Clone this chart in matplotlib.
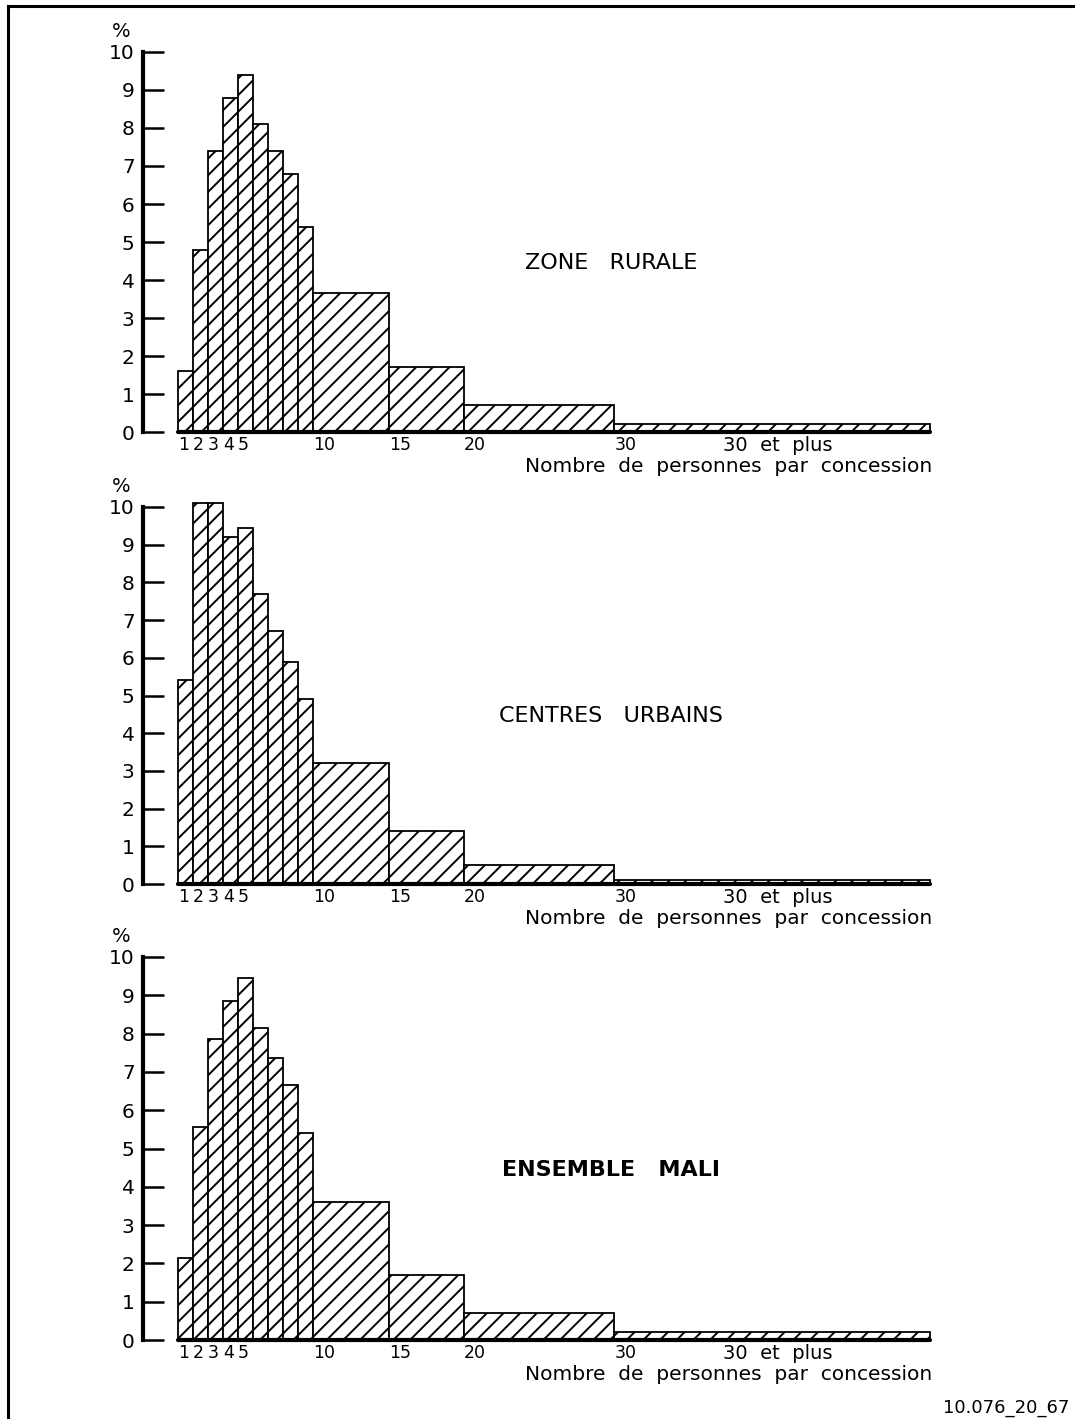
import matplotlib.pyplot as plt
from matplotlib.lines import Line2D

# Classes de taille (bornes des intervalles)
bornes_gauche = [1, 2, 3, 4, 5, 6, 7, 8, 9, 10, 15, 20, 30]
bornes_droite = [2, 3, 4, 5, 6, 7, 8, 9, 10, 15, 20, 30, 51]

# Pourcentages
zone_rurale = [1.6, 4.8, 7.4, 8.8, 9.4, 8.1, 7.4, 6.8, 5.4, 3.65, 1.7, 0.72, 0.2]
centres_urbains = [5.4, 10.1, 10.1, 9.2, 9.45, 7.7, 6.7, 5.9, 4.9, 3.2, 1.4, 0.5, 0.1]
ensemble_mali = [2.15, 5.55, 7.85, 8.85, 9.45, 8.15, 7.35, 6.65, 5.4, 3.6, 1.7, 0.7, 0.22]

titres = ['ZONE   RURALE', 'CENTRES   URBAINS', 'ENSEMBLE   MALI']
x_ticks = [1, 2, 3, 4, 5, 10, 15, 20, 30]
x_labels = ['1', '2', '3', '4', '5', '10', '15', '20', '30']
y_ticks = [0, 1, 2, 3, 4, 5, 6, 7, 8, 9, 10]

plt.rcParams['font.family'] = 'DejaVu Sans'
plt.rcParams['hatch.linewidth'] = 1.4

W, H = 1075, 1419
fig = plt.figure(figsize=(W / 100, H / 100), dpi=100)

# position des panneaux en pixels : (y du zero, y du 10)
panneaux = [(432, 52), (884, 507), (1340, 957)]
series = [zone_rurale, centres_urbains, ensemble_mali]

x_gauche, x_droite = 143, 935
xlim = (-1.32, 51.3)

largeurs = [d - g for g, d in zip(bornes_gauche, bornes_droite)]

for (y0, y10), valeurs, titre in zip(panneaux, series, titres):
    unite = (y0 - y10) / 10
    ax = fig.add_axes([x_gauche / W, 1 - y0 / H,
                       (x_droite - x_gauche) / W, 10.6 * unite / H])
    ax.bar(bornes_gauche, valeurs, width=largeurs, align='edge',
           facecolor='white', edgecolor='black', linewidth=1.3, hatch='//')
    ax.set_xlim(*xlim)
    ax.set_ylim(0, 10.6)

    for s in ['top', 'right']:
        ax.spines[s].set_visible(False)
    ax.spines['left'].set_bounds(0, 10)
    ax.spines['left'].set_linewidth(3)
    ax.spines['bottom'].set_bounds(1, 51)
    ax.spines['bottom'].set_linewidth(3)
    ax.spines['bottom'].set_capstyle('round')

    ax.set_yticks(y_ticks)
    ax.set_yticklabels([str(v) for v in y_ticks], fontsize=14.5)
    ax.tick_params(axis='y', direction='in', length=15, width=1.8, pad=6)

    ax.set_xticks(x_ticks)
    ax.set_xticklabels(x_labels, fontsize=12.5, ha='left')
    ax.tick_params(axis='x', length=0, pad=3)

    ax.text(-0.027, 10.3, '%', transform=ax.get_yaxis_transform(),
            fontsize=14, ha='center', va='bottom')
    ax.annotate('30  et  plus', xy=(37.2, 0), xytext=(0, -10),
                textcoords='offset points', fontsize=14,
                ha='left', va='center', annotation_clip=False)
    ax.annotate('Nombre  de  personnes  par  concession', xy=(51.1, 0),
                xytext=(0, -25), textcoords='offset points', fontsize=14.5,
                ha='right', va='center', annotation_clip=False)
    ax.text(29.8, 4.45, titre, fontsize=16, ha='center', va='center',
            fontweight='bold' if 'MALI' in titre else 'normal')

# cadre (haut et gauche)
fig.add_artist(Line2D([8 / W, 1], [1 - 6 / H, 1 - 6 / H], color='black', lw=2.2))
fig.add_artist(Line2D([8 / W, 8 / W], [1 - 6 / H, 0], color='black', lw=2.2))

fig.text(0.995, 1 - 1408 / H, '10.076_20_67', fontsize=13, ha='right', va='center')

fig.savefig('out.png', dpi=100, facecolor='white')
